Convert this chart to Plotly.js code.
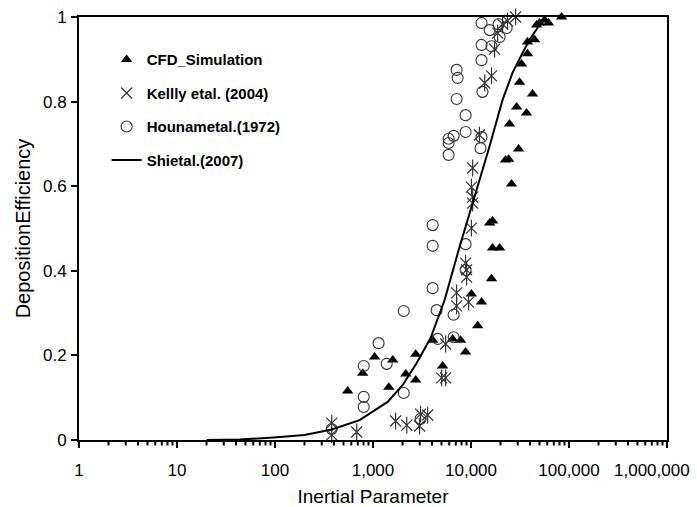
<!DOCTYPE html>
<html>
<head>
<meta charset="utf-8">
<script src="https://cdn.plot.ly/plotly-3.0.1.min.js"></script>
<style>html,body{margin:0;padding:0;background:#fff;}#chart{width:697px;height:507px;}</style>
</head>
<body>
<div id="chart"></div>
<script>
// CFD_Simulation
var cfdX = [552, 785, 1040, 1590, 1450, 2160, 2730, 2730, 4060, 5140, 6490, 7830, 8810, 10100, 12800, 11700, 16200, 16600, 19600, 15500, 16600, 25900, 22500, 24200, 30600, 24700, 36900, 29200, 42500, 31300, 32800, 37700, 44500, 37700, 46700, 50000, 56300, 61800, 83900];
var cfdY = [0.116, 0.158, 0.196, 0.189, 0.125, 0.156, 0.203, 0.142, 0.236, 0.175, 0.239, 0.236, 0.208, 0.345, 0.326, 0.270, 0.381, 0.454, 0.454, 0.513, 0.518, 0.605, 0.662, 0.664, 0.688, 0.747, 0.773, 0.787, 0.818, 0.846, 0.889, 0.913, 0.946, 0.941, 0.981, 0.986, 0.993, 0.986, 1.0];
// Kellly etal. (2004)
var kellyX = [379, 379, 682, 1700, 2210, 2990, 3060, 3610, 5020, 5510, 5510, 7130, 7130, 9460, 8810, 9020, 9020, 10100, 10400, 10400, 10100, 10400, 12200, 13800, 16200, 17400, 18700, 21000, 23600, 28500];
var kellyY = [0.040, 0.012, 0.019, 0.045, 0.035, 0.033, 0.061, 0.059, 0.147, 0.147, 0.227, 0.348, 0.317, 0.326, 0.418, 0.402, 0.385, 0.501, 0.560, 0.574, 0.598, 0.643, 0.721, 0.844, 0.861, 0.924, 0.962, 0.983, 0.991, 1.0];
// Hounametal.(1972)
var hounamX = [379, 804, 804, 804, 1140, 1380, 2060, 2060, 3060, 4060, 4060, 4060, 4460, 4570, 6650, 6650, 8810, 8810, 5910, 5910, 5910, 6650, 8810, 8810, 7130, 7300, 7130, 12800, 12500, 13100, 12800, 12800, 16200, 12800, 15500, 19100, 19600, 23100];
var hounamY = [0.026, 0.175, 0.102, 0.078, 0.229, 0.180, 0.111, 0.305, 0.050, 0.508, 0.459, 0.359, 0.307, 0.239, 0.296, 0.243, 0.463, 0.402, 0.674, 0.702, 0.712, 0.719, 0.728, 0.768, 0.806, 0.856, 0.875, 0.716, 0.690, 0.823, 0.898, 0.934, 0.931, 0.986, 0.969, 0.983, 0.953, 0.974];
// Shietal.(2007)
var shiX = [20, 44, 97, 200, 380, 730, 1410, 2010, 2790, 3870, 5380, 7480, 10600, 15100, 21000, 26500, 33600, 39500, 50000, 57600];
var shiY = [0, 0.001, 0.006, 0.012, 0.025, 0.047, 0.090, 0.130, 0.182, 0.241, 0.331, 0.449, 0.567, 0.686, 0.804, 0.868, 0.915, 0.946, 0.981, 0.995];

var xTickVals = [1, 10, 100, 1000, 10000, 100000, 1000000];
var xTickText = ['1', '10', '100', '1,000', '10,000', '100,000', '1,000,000'];
var yTickVals = [0, 0.2, 0.4, 0.6, 0.8, 1];
var yTickText = ['0', '0.2', '0.4', '0.6', '0.8', '1'];

var FONT = 'Liberation Sans, Arial, sans-serif';

// the last x tick label sits against the right edge, so it is drawn right-aligned at its tick
var nLast = xTickVals.length - 1;
var axisTickText = xTickText.slice(0, nLast).concat(['']);
var lastLabel = {
  text: xTickText[nLast], xref: 'x', yref: 'paper',
  x: Math.log10(xTickVals[nLast]), y: 0,
  xanchor: 'right', yanchor: 'middle', xshift: 25, yshift: -30,
  showarrow: false, font: {family: FONT, size: 17, color: '#000'}
};

// minor tick marks on the log axis (2..9 in each decade), placed through the x scale
var minorShapes = [];
for (var d = 0; d < 6; d++) {
  for (var k = 2; k <= 9; k++) {
    var v = k * Math.pow(10, d);
    minorShapes.push({type: 'line', xref: 'x', yref: 'paper', x0: v, x1: v, y0: 0, y1: -0.013,
                      line: {color: '#000', width: 2}, layer: 'above'});
  }
}

var traces = [
  {x: cfdX, y: cfdY, type: 'scatter', mode: 'markers', name: 'CFD_Simulation', legendgroup: 'a',
   cliponaxis: false,
   marker: {symbol: 'triangle-up', size: 10, color: '#000'}},
  {x: kellyX, y: kellyY, type: 'scatter', mode: 'markers', name: 'Kellly etal. (2004)', legendgroup: 'b',
   cliponaxis: false,
   marker: {symbol: 'x-thin-open', size: 11, color: '#333', line: {width: 1.2, color: '#333'}}},
  {x: kellyX, y: kellyY, type: 'scatter', mode: 'markers', name: 'Kellly etal. (2004)', legendgroup: 'b',
   showlegend: false, cliponaxis: false, hoverinfo: 'skip',
   marker: {symbol: 'line-ns-open', size: 12, color: '#333', line: {width: 1.2, color: '#333'}}},
  {x: hounamX, y: hounamY, type: 'scatter', mode: 'markers', name: 'Hounametal.(1972)', legendgroup: 'c',
   cliponaxis: false,
   marker: {symbol: 'circle-open', size: 11, color: '#333', line: {width: 1.1, color: '#333'}}},
  {x: shiX, y: shiY, type: 'scatter', mode: 'lines', name: 'Shietal.(2007)', legendgroup: 'd',
   line: {color: '#000', width: 2}}
];

var layout = {
  width: 697, height: 507,
  margin: {l: 79, r: 30, t: 17, b: 67},
  paper_bgcolor: '#fff', plot_bgcolor: '#fff',
  font: {family: FONT, color: '#000'},
  showlegend: true,
  legend: {x: 0.047, xanchor: 'left', y: 0.938, yanchor: 'top',
           font: {family: FONT, size: 15, color: '#000', weight: 'bold'},
           tracegroupgap: 11, bgcolor: 'rgba(0,0,0,0)', itemwidth: 30},
  shapes: minorShapes,
  annotations: [lastLabel],
  xaxis: {
    type: 'log', range: [0, 6],
    tickmode: 'array', tickvals: xTickVals, ticktext: axisTickText,
    ticks: 'outside', ticklen: 6, tickwidth: 2, tickcolor: '#000',
    showline: true, linecolor: '#000', linewidth: 2, mirror: true,
    showgrid: false, zeroline: false,
    tickfont: {family: FONT, size: 17, color: '#000'},
    ticklabelstandoff: 8,
    title: {text: 'Inertial Parameter', font: {family: FONT, size: 19, color: '#000'}, standoff: 11}
  },
  yaxis: {
    range: [0, 1],
    tickmode: 'array', tickvals: yTickVals, ticktext: yTickText,
    ticks: 'outside', ticklen: 6, tickwidth: 2, tickcolor: '#000',
    showline: true, linecolor: '#000', linewidth: 2, mirror: true,
    showgrid: false, zeroline: false,
    tickfont: {family: FONT, size: 17, color: '#000'},
    ticklabelstandoff: 1,
    title: {text: 'DepositionEfficiency', font: {family: FONT, size: 20, color: '#000'}, standoff: 7}
  }
};

Plotly.newPlot('chart', traces, layout, {displayModeBar: false, staticPlot: true});
</script>
</body>
</html>
